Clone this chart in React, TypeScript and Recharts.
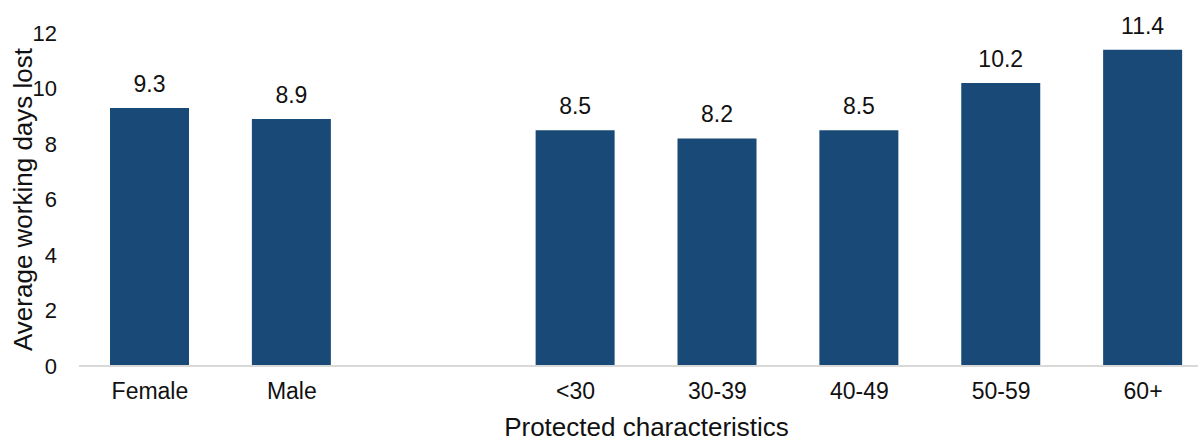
import { BarChart, Bar, XAxis, YAxis, LabelList } from "recharts";

const categories = ["Female", "Male", "", "<30", "30-39", "40-49", "50-59", "60+"];
const daysLost: (number | null)[] = [9.3, 8.9, null, 8.5, 8.2, 8.5, 10.2, 11.4];
const yTicks = [0, 2, 4, 6, 8, 10, 12];

const chartData = categories.map((name, i) => ({ name, value: daysLost[i] }));

const font = "'Liberation Sans', Arial, sans-serif";

export default function App() {
  return (
    <div style={{ width: 1198, height: 439, overflow: "hidden", position: "relative", background: "#fff" }}>
      <style>{`body{margin:0;overflow:hidden}`}</style>
      <BarChart
        width={1214}
        height={439}
        data={chartData}
        margin={{ top: 33, right: 0, bottom: 0, left: 0 }}
        style={{ fontFamily: font }}
      >
        <XAxis
          dataKey="name"
          height={73}
          tickLine={false}
          tickSize={0}
          tickMargin={17}
          axisLine={{ stroke: "#d9d9d9", strokeWidth: 2 }}
          tick={{ fill: "#111", fontSize: 23 }}
          interval={0}
          label={{ value: "Protected characteristics", position: "insideBottom", offset: 3, fill: "#111", fontSize: 26 }}
        />
        <YAxis
          width={79}
          domain={[0, 12]}
          ticks={yTicks}
          axisLine={false}
          tickLine={false}
          tickSize={0}
          tickMargin={22}
          tick={{ fill: "#111", fontSize: 22 }}
          label={{
            value: "Average working days lost",
            angle: -90,
            position: "insideLeft",
            offset: 23,
            fill: "#111",
            fontSize: 26,
            style: { textAnchor: "middle" },
          }}
        />
        <Bar dataKey="value" fill="#194a77" barSize={79} isAnimationActive={false}>
          <LabelList dataKey="value" position="top" offset={16} fill="#111" fontSize={23} />
        </Bar>
      </BarChart>
    </div>
  );
}
